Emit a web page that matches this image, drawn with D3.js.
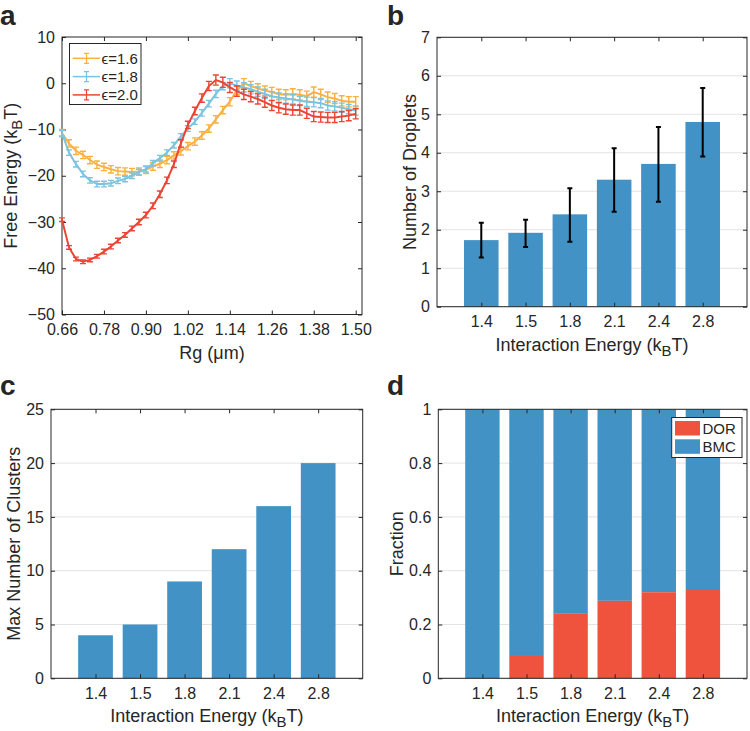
<!DOCTYPE html>
<html>
<head>
<meta charset="utf-8">
<script src="https://cdn.jsdelivr.net/npm/d3@7"></script>
<style>
  body { margin: 0; background: #fff; }
  svg text { font-family: 'Liberation Sans', Arial, Helvetica, sans-serif; fill: #262626; }
</style>
</head>
<body>
<svg id="fig" width="750" height="731"></svg>
<script>
// ---- panel a data (Rg in um, free energy in kBT) ----
const rgValues = [0.66, 0.68, 0.70, 0.72, 0.74, 0.76, 0.78, 0.80, 0.82, 0.84, 0.86,
    0.88, 0.90, 0.92, 0.94, 0.96, 0.98, 1.00, 1.02, 1.04, 1.06, 1.08, 1.10, 1.12,
    1.14, 1.16, 1.18, 1.20, 1.22, 1.24, 1.26, 1.28, 1.30, 1.32, 1.34, 1.36, 1.38,
    1.40, 1.42, 1.44, 1.46, 1.48, 1.50];
const energy16 = [-10.8, -13.0, -14.6, -15.5, -16.6, -17.6, -18.1, -18.6, -19.0, -19.1, -19.2,
    -19.1, -18.7, -18.0, -17.4, -16.6, -15.6, -14.7, -13.6, -12.6, -11.3, -9.8, -7.8, -5.8,
    -4.0, -1.5, 0.0, -0.6, -1.1, -1.6, -1.9, -2.4, -2.5, -2.3, -2.5, -2.8, -1.9,
    -2.4, -3.0, -3.3, -3.8, -4.0, -4.0];
const energy18 = [-10.8, -15.0, -17.5, -19.6, -21.0, -21.8, -21.8, -21.6, -21.1, -20.7, -20.0,
    -19.2, -18.6, -17.3, -16.2, -15.0, -13.4, -11.5, -9.8, -8.3, -6.4, -4.4, -2.3, -0.6,
    0.0, -0.5, -0.9, -1.3, -1.8, -2.3, -2.8, -3.1, -3.3, -3.5, -3.8, -4.0, -4.1,
    -4.3, -4.8, -5.0, -5.3, -5.6, -5.9];
const energy20 = [-29.5, -35.5, -38.0, -38.6, -38.2, -37.4, -36.4, -35.3, -34.0, -32.8, -31.4,
    -30.0, -28.5, -26.5, -24.0, -21.0, -17.5, -13.0, -9.0, -6.0, -3.2, -0.6, 0.7, 0.2,
    -0.9, -1.7, -2.4, -2.9, -3.4, -4.1, -4.8, -5.3, -5.6, -5.8, -5.8, -6.5, -7.2,
    -7.3, -7.4, -7.4, -7.2, -7.0, -6.6];
const err16 = [0.8, 0.8, 0.8, 0.8, 0.8, 0.8, 0.8, 0.8, 0.8, 0.8, 0.8,
    0.8, 0.8, 0.8, 0.8, 0.8, 0.8, 0.8, 0.8, 0.8, 0.8, 0.8, 0.8, 0.8,
    0.9, 0.9, 1.0, 1.0, 1.0, 1.0, 1.0, 1.1, 1.1, 1.1, 1.1, 1.1, 1.1,
    1.1, 1.1, 1.1, 1.1, 1.1, 1.1];
const err18 = [0.6, 0.6, 0.6, 0.6, 0.6, 0.6, 0.6, 0.6, 0.6, 0.6, 0.6,
    0.6, 0.6, 0.6, 0.6, 0.6, 0.6, 0.6, 0.6, 0.6, 0.7, 0.7, 0.8, 0.8,
    1.0, 1.0, 1.0, 1.0, 1.0, 1.0, 1.0, 1.0, 1.0, 1.0, 1.0, 1.0, 1.0,
    1.0, 1.0, 1.0, 1.0, 1.0, 1.0];
const err20 = [0.4, 0.4, 0.4, 0.4, 0.4, 0.4, 0.5, 0.5, 0.5, 0.5, 0.5,
    0.6, 0.6, 0.6, 0.7, 0.7, 0.7, 0.8, 0.8, 0.8, 0.9, 1.0, 1.1, 1.1,
    1.1, 1.1, 1.1, 1.1, 1.1, 1.1, 1.1, 1.1, 1.1, 1.1, 1.1, 1.1, 1.1,
    1.1, 1.1, 1.1, 1.1, 1.1, 1.1];
const seriesNames = ['\u03f5=1.6', '\u03f5=1.8', '\u03f5=2.0'];
const seriesColors = ['#fbb040', '#7cc3e0', '#ec4535'];
const rgTicks = [0.66, 0.78, 0.90, 1.02, 1.14, 1.26, 1.38, 1.50];
const energyTicks = [-50, -40, -30, -20, -10, 0, 10];

// ---- panels b, c, d data ----
const energyLabels = ['1.4', '1.5', '1.8', '2.1', '2.4', '2.8'];
const dropletMean = [1.73, 1.92, 2.40, 3.30, 3.71, 4.80];
const dropletLow = [1.28, 1.55, 1.69, 2.47, 2.73, 3.90];
const dropletHigh = [2.18, 2.26, 3.08, 4.12, 4.67, 5.68];
const maxClusters = [4, 5, 9, 12, 16, 20];
const dorFraction = [0, 0.083, 0.242, 0.288, 0.32, 0.332];

const barBlue = '#4292c6';
const barRed = '#ef523d';
const ink = '#262626';

const svg = d3.select('#fig');

// box with inward ticks on all four sides, MATLAB style
function drawFrame(g, x, y, xTicks, yTicks, xFmt, yFmt) {
    const [x0, x1] = x.range();
    const [y0, y1] = y.range(); // y0 = bottom

    g.append('g')
        .attr('transform', `translate(0,${y0})`)
        .call(d3.axisBottom(x).tickValues(xTicks).tickSize(-4).tickSizeOuter(0)
            .tickPadding(9).tickFormat(xFmt))
        .call(a => a.select('.domain').remove())
        .call(a => a.selectAll('line').attr('stroke', ink))
        .call(a => a.selectAll('text').attr('font-size', 16).attr('fill', ink)
            .attr('font-family', "'Liberation Sans', Arial, sans-serif"));
    g.append('g')
        .attr('transform', `translate(0,${y1})`)
        .call(d3.axisTop(x).tickValues(xTicks).tickSize(-4).tickFormat(''))
        .call(a => a.select('.domain').remove())
        .call(a => a.selectAll('line').attr('stroke', ink));
    g.append('g')
        .attr('transform', `translate(${x0},0)`)
        .call(d3.axisLeft(y).tickValues(yTicks).tickSize(-4).tickPadding(7).tickFormat(yFmt))
        .call(a => a.select('.domain').remove())
        .call(a => a.selectAll('line').attr('stroke', ink))
        .call(a => a.selectAll('text').attr('font-size', 16).attr('fill', ink)
            .attr('font-family', "'Liberation Sans', Arial, sans-serif"));
    g.append('g')
        .attr('transform', `translate(${x1},0)`)
        .call(d3.axisRight(y).tickValues(yTicks).tickSize(-4).tickFormat(''))
        .call(a => a.select('.domain').remove())
        .call(a => a.selectAll('line').attr('stroke', ink));

    g.append('rect')
        .attr('x', x0).attr('y', y1)
        .attr('width', x1 - x0).attr('height', y0 - y1)
        .attr('fill', 'none').attr('stroke', ink).attr('stroke-width', 1);
}

function yLabel(g, x, yMid, parts) {
    const t = g.append('text')
        .attr('transform', `translate(${x},${yMid}) rotate(-90)`)
        .attr('text-anchor', 'middle')
        .attr('font-size', 18);
    addParts(t, parts);
}

function xLabel(g, xMid, y, parts) {
    const t = g.append('text')
        .attr('x', xMid).attr('y', y)
        .attr('text-anchor', 'middle')
        .attr('font-size', 18);
    addParts(t, parts);
}

// parts: [text, isSubscript]
function addParts(t, parts) {
    parts.forEach(([s, sub], i) => {
        const ts = t.append('tspan').text(s);
        if (sub) ts.attr('font-size', 15).attr('dy', 5);
        else if (i > 0 && parts[i - 1][1]) ts.attr('dy', -5);
    });
}

function panelLetter(x, y, s) {
    svg.append('text').attr('x', x).attr('y', y)
        .attr('font-size', 28).attr('font-weight', 'bold').attr('fill', '#000')
        .text(s);
}

// ================= panel a =================
(function drawPanelA() {
    const g = svg.append('g');
    const x = d3.scaleLinear().domain([0.66, 1.518]).range([62, 362]);
    const y = d3.scaleLinear().domain([-50, 10]).range([314.5, 37]);

    drawFrame(g, x, y, rgTicks, energyTicks, d3.format('.2f'), d3.format('d'));

    const allSeries = [
        {values: energy16, err: err16},
        {values: energy18, err: err18},
        {values: energy20, err: err20}
    ];

    const line = d3.line().x(d => x(d.rg)).y(d => y(d.e));

    allSeries.forEach((s, si) => {
        const pts = rgValues.map((rg, i) => ({rg: rg, e: s.values[i], err: s.err[i]}));
        const sg = g.append('g').attr('stroke', seriesColors[si]).attr('fill', 'none');
        sg.append('path').attr('d', line(pts)).attr('stroke-width', 2);
        sg.selectAll('path.eb')
            .data(pts)
            .join('path')
            .attr('class', 'eb')
            .attr('stroke-width', 1.4)
            .attr('d', d => {
                const cx = x(d.rg), lo = y(d.e - d.err), hi = y(d.e + d.err);
                return `M${cx},${lo}V${hi}M${cx - 3},${lo}H${cx + 3}M${cx - 3},${hi}H${cx + 3}`;
            });
    });

    // legend
    const lg = g.append('g');
    lg.append('rect').attr('x', 69.5).attr('y', 43.5).attr('width', 71.5).attr('height', 61)
        .attr('fill', '#fff').attr('stroke', ink);
    seriesNames.forEach((name, i) => {
        const cy = 58.3 + i * 18.3;
        const c = seriesColors[i];
        lg.append('line').attr('x1', 72.7).attr('x2', 100).attr('y1', cy).attr('y2', cy)
            .attr('stroke', c).attr('stroke-width', 1.5);
        lg.append('path')
            .attr('d', `M86.5,${cy - 5}V${cy + 5}M84,${cy - 5}H89M84,${cy + 5}H89`)
            .attr('stroke', c).attr('stroke-width', 1.2).attr('fill', 'none');
        lg.append('text').attr('x', 101.5).attr('y', cy).attr('dy', '0.36em')
            .attr('font-size', 15).text(name);
    });

    yLabel(g, 17, (37 + 314.5) / 2, [['Free Energy (k', false], ['B', true], ['T)', false]]);
    xLabel(g, 212, 358.5, [['Rg (\u03bcm)', false]]);
    panelLetter(0, 25, 'a');
})();

// shared setup for the bar panels
function barScales(left, right, top, bottom, yMax) {
    return {
        x: d3.scaleLinear().domain([0, 7]).range([left, right]),
        y: d3.scaleLinear().domain([0, yMax]).range([bottom, top])
    };
}

function gridLines(g, x, y, ticks) {
    g.append('g').selectAll('line')
        .data(ticks)
        .join('line')
        .attr('x1', x.range()[0]).attr('x2', x.range()[1])
        .attr('y1', d => y(d)).attr('y2', d => y(d))
        .attr('stroke', '#e3e3e3').attr('stroke-width', 1);
}

const catIdx = energyLabels.map((d, i) => i + 1);
const catFmt = (d) => energyLabels[d - 1];
const barFrac = 0.78;

// ================= panel b =================
(function drawPanelB() {
    const g = svg.append('g');
    const {x, y} = barScales(437, 747, 37.3, 306.7, 7);
    const yTicks = d3.range(0, 8);
    gridLines(g, x, y, yTicks);
    const bw = (x(1) - x(0)) * barFrac;

    g.append('g').attr('fill', barBlue)
        .selectAll('rect')
        .data(dropletMean)
        .join('rect')
        .attr('x', (d, i) => x(i + 1) - bw / 2)
        .attr('y', d => y(d))
        .attr('width', bw)
        .attr('height', d => y(0) - y(d));

    g.append('g').attr('stroke', '#000').attr('stroke-width', 2).attr('fill', 'none')
        .selectAll('path')
        .data(dropletMean)
        .join('path')
        .attr('d', (d, i) => {
            const cx = x(i + 1), lo = y(dropletLow[i]), hi = y(dropletHigh[i]);
            return `M${cx},${lo}V${hi}M${cx - 2.5},${lo}H${cx + 2.5}M${cx - 2.5},${hi}H${cx + 2.5}`;
        });

    drawFrame(g, x, y, catIdx, yTicks, catFmt, d3.format('d'));
    yLabel(g, 416, (37.3 + 306.7) / 2, [['Number of Droplets', false]]);
    xLabel(g, (437 + 747) / 2, 351, [['Interaction Energy (k', false], ['B', true], ['T)', false]]);
    panelLetter(387, 25, 'b');
})();

// ================= panel c =================
(function drawPanelC() {
    const g = svg.append('g');
    const {x, y} = barScales(51, 362.7, 409.3, 678.3, 25);
    const yTicks = [0, 5, 10, 15, 20, 25];
    gridLines(g, x, y, yTicks);
    const bw = (x(1) - x(0)) * barFrac;

    g.append('g').attr('fill', barBlue)
        .selectAll('rect')
        .data(maxClusters)
        .join('rect')
        .attr('x', (d, i) => x(i + 1) - bw / 2)
        .attr('y', d => y(d))
        .attr('width', bw)
        .attr('height', d => y(0) - y(d));

    drawFrame(g, x, y, catIdx, yTicks, catFmt, d3.format('d'));
    yLabel(g, 20, (409.3 + 678.3) / 2, [['Max Number of Clusters', false]]);
    xLabel(g, (51 + 362.7) / 2, 722, [['Interaction Energy (k', false], ['B', true], ['T)', false]]);
    panelLetter(0, 395, 'c');
})();

// ================= panel d =================
(function drawPanelD() {
    const g = svg.append('g');
    const {x, y} = barScales(438.3, 747, 409.3, 678.3, 1);
    const yTicks = [0, 0.2, 0.4, 0.6, 0.8, 1];
    gridLines(g, x, y, yTicks);
    const bw = (x(1) - x(0)) * barFrac;

    // BMC fills the rest of each bar above DOR
    g.append('g').attr('fill', barBlue)
        .selectAll('rect')
        .data(dorFraction)
        .join('rect')
        .attr('x', (d, i) => x(i + 1) - bw / 2)
        .attr('y', y(1))
        .attr('width', bw)
        .attr('height', d => y(d) - y(1));
    g.append('g').attr('fill', barRed)
        .selectAll('rect')
        .data(dorFraction)
        .join('rect')
        .attr('x', (d, i) => x(i + 1) - bw / 2)
        .attr('y', d => y(d))
        .attr('width', bw)
        .attr('height', d => y(0) - y(d));

    drawFrame(g, x, y, catIdx, yTicks, catFmt, d => d === 0 || d === 1 ? String(d) : d3.format('.1f')(d));

    // legend
    const lg = g.append('g');
    lg.append('rect').attr('x', 671.7).attr('y', 417.5).attr('width', 70.3).attr('height', 40)
        .attr('fill', '#fff').attr('stroke', ink);
    [['DOR', barRed], ['BMC', barBlue]].forEach(([name, c], i) => {
        const top = 421 + i * 18.3;
        lg.append('rect').attr('x', 675).attr('y', top).attr('width', 25).attr('height', 14.5)
            .attr('fill', c);
        lg.append('text').attr('x', 702.5).attr('y', top + 7.2).attr('dy', '0.36em')
            .attr('font-size', 15).text(name);
    });

    yLabel(g, 403, (409.3 + 678.3) / 2, [['Fraction', false]]);
    xLabel(g, (438.3 + 747) / 2, 722, [['Interaction Energy (k', false], ['B', true], ['T)', false]]);
    panelLetter(387, 395, 'd');
})();
</script>
</body>
</html>
